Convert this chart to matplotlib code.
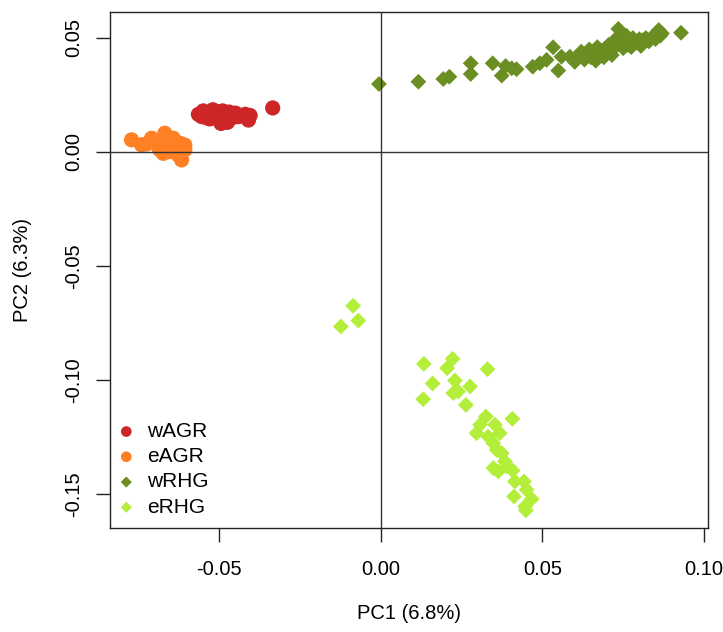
import matplotlib.pyplot as plt

plt.rcParams['font.family'] = ['Liberation Sans', 'DejaVu Sans']

# PCA coordinates per population (PC1, PC2)
wagr_pc1 = [-0.0565, -0.0550, -0.0540, -0.0530, -0.0520, -0.0510, -0.0500, -0.0505,
            -0.0490, -0.0480, -0.0475, -0.0470, -0.0460, -0.0450, -0.0440, -0.0420,
            -0.0410, -0.0405, -0.0495, -0.0530, -0.0555, -0.0335]
wagr_pc2 = [0.0165, 0.0180, 0.0150, 0.0170, 0.0185, 0.0160, 0.0140, 0.0175,
            0.0180, 0.0160, 0.0130, 0.0175, 0.0150, 0.0170, 0.0155, 0.0165,
            0.0140, 0.0160, 0.0125, 0.0145, 0.0155, 0.0193]

eagr_pc1 = [-0.0772, -0.0741, -0.0710, -0.0669, -0.0689, -0.0643, -0.0622, -0.0658,
            -0.0628, -0.0617, -0.0674, -0.0607, -0.0638, -0.0725, -0.0700, -0.0655,
            -0.0685, -0.0607]
eagr_pc2 = [0.0053, 0.0031, 0.0060, 0.0082, 0.0023, 0.0060, 0.0038, 0.0001,
            -0.0013, -0.0035, -0.0006, 0.0009, 0.0020, 0.0035, 0.0050, 0.0030,
            0.0010, 0.0030]

wrhg_pc1 = [-0.0006, 0.0116, 0.0193, 0.0212, 0.0278, 0.0278, 0.0346, 0.0374,
            0.0386, 0.0405, 0.0420, 0.0470, 0.0492, 0.0513, 0.0533, 0.0549,
            0.0559, 0.0585, 0.0600, 0.0610, 0.0620, 0.0630, 0.0640, 0.0645,
            0.0650, 0.0660, 0.0665, 0.0670, 0.0675, 0.0680, 0.0690, 0.0695,
            0.0700, 0.0705, 0.0710, 0.0715, 0.0720, 0.0725, 0.0730, 0.0735,
            0.0740, 0.0745, 0.0750, 0.0755, 0.0760, 0.0765, 0.0770, 0.0775,
            0.0780, 0.0790, 0.0800, 0.0805, 0.0810, 0.0820, 0.0830, 0.0840,
            0.0850, 0.0860, 0.0865, 0.0870, 0.0929]
wrhg_pc2 = [0.0298, 0.0308, 0.0320, 0.0330, 0.0389, 0.0342, 0.0389, 0.0335,
            0.0377, 0.0367, 0.0363, 0.0374, 0.0389, 0.0404, 0.0459, 0.0357,
            0.0418, 0.0418, 0.0395, 0.0420, 0.0440, 0.0405, 0.0430, 0.0450,
            0.0415, 0.0440, 0.0400, 0.0460, 0.0425, 0.0445, 0.0415, 0.0455,
            0.0435, 0.0470, 0.0450, 0.0425, 0.0480, 0.0460, 0.0500, 0.0540,
            0.0475, 0.0520, 0.0455, 0.0495, 0.0510, 0.0470, 0.0490, 0.0460,
            0.0500, 0.0480, 0.0495, 0.0465, 0.0490, 0.0500, 0.0485, 0.0505,
            0.0495, 0.0535, 0.0510, 0.0520, 0.0523]

erhg_pc1 = [-0.0086, -0.0070, -0.0124, 0.0133, 0.0222, 0.0205, 0.0330, 0.0160,
            0.0229, 0.0239, 0.0224, 0.0276, 0.0131, 0.0263, 0.0325, 0.0407,
            0.0307, 0.0296, 0.0353, 0.0332, 0.0368, 0.0348, 0.0358, 0.0374,
            0.0384, 0.0348, 0.0389, 0.0408, 0.0363, 0.0415, 0.0443, 0.0451,
            0.0412, 0.0467, 0.0446, 0.0449]
erhg_pc2 = [-0.0675, -0.0740, -0.0766, -0.0930, -0.0908, -0.0949, -0.0953, -0.1016,
            -0.1003, -0.1051, -0.1058, -0.1029, -0.1085, -0.1110, -0.1161, -0.1171,
            -0.1197, -0.1234, -0.1197, -0.1249, -0.1234, -0.1278, -0.1307, -0.1322,
            -0.1358, -0.1387, -0.1380, -0.1398, -0.1402, -0.1446, -0.1446, -0.1482,
            -0.1512, -0.1523, -0.1556, -0.1573]

fig = plt.figure(figsize=(7.23, 6.32), dpi=100)
ax = fig.add_axes([0.152, 0.165, 0.827, 0.816])

ax.scatter(wagr_pc1, wagr_pc2, s=120, marker='o', color='#CD2626', edgecolors='none', label='wAGR')
ax.scatter(eagr_pc1, eagr_pc2, s=120, marker='o', color='#FF7F24', edgecolors='none', label='eAGR')
ax.scatter(wrhg_pc1, wrhg_pc2, s=65, marker='D', color='#6B8E23', edgecolors='none', label='wRHG')
ax.scatter(erhg_pc1, erhg_pc2, s=65, marker='D', color='#B3EE3A', edgecolors='none', label='eRHG')

# reference lines through the origin, drawn over the points
ax.axhline(0, color='#333333', lw=1, zorder=3)
ax.axvline(0, color='#333333', lw=1, zorder=3)

ax.set_xlim(-0.0839, 0.1012)
ax.set_ylim(-0.1649, 0.0614)
ax.set_xticks([-0.05, 0.0, 0.05, 0.10])
ax.set_xticklabels(['-0.05', '0.00', '0.05', '0.10'])
ax.set_yticks([-0.15, -0.10, -0.05, 0.0, 0.05])
ax.set_yticklabels(['-0.15', '-0.10', '-0.05', '0.00', '0.05'])

for s in ax.spines.values():
    s.set_color('#222222')
    s.set_linewidth(1)

ax.tick_params(direction='out', length=10, width=1, color='#222222', labelsize=14.5)
ax.tick_params(axis='x', pad=13)
ax.tick_params(axis='y', pad=9, labelrotation=90)
for lab in ax.get_yticklabels():
    lab.set_va('center')

ax.set_xlabel('PC1 (6.8%)', fontsize=14.5)
ax.set_ylabel('PC2 (6.3%)', fontsize=14.5)
ax.xaxis.set_label_coords(0.5, -0.167)
ax.xaxis.label.set_va('center')
ax.yaxis.set_label_coords(-0.1455, 0.5)
ax.yaxis.label.set_va('center')

ax.legend(loc='upper left', bbox_to_anchor=(0.01, 0.205), frameon=False,
          fontsize=15, markerscale=0.7, scatterpoints=1, handlelength=1,
          handletextpad=0.5, labelspacing=0.3, borderpad=0, borderaxespad=0)

plt.savefig('out.png', dpi=100)
